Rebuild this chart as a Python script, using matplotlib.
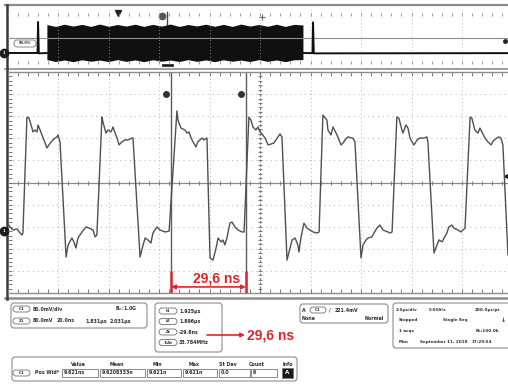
import numpy as np
import matplotlib.pyplot as plt
from matplotlib.patches import FancyBboxPatch

W, H = 508, 384
RED = '#e3232b'
GRID = '#b4b4b4'
FRAME = '#8c8c8c'
INK = '#2e2e2e'

# zoomed channel 1 record: time (ns) and voltage (mV), 20 ns/div, 80 mV/div
trace_t = [0.0, 1.0, 2.2, 3.8, 4.6, 5.7, 6.1, 7.7, 8.5, 9.7, 10.1, 10.9, 11.7, 12.1, 12.9,
           14.1, 14.9, 15.6, 16.4, 17.6, 18.8, 19.6, 20.0, 20.8, 23.2,
           24.0, 25.5, 26.3, 27.1, 27.9, 29.5, 31.1, 32.3, 33.9, 34.7, 35.4, 37.4,
           37.8, 39.0, 39.8, 41.0, 41.8, 42.6, 43.4, 44.2, 45.3, 46.5, 47.7, 49.3, 49.7, 52.5,
           53.7, 54.5, 55.6, 56.8, 57.6, 59.2, 60.4, 62.4, 64.0, 67.1,
           67.5, 68.7, 70.3, 71.1, 71.9, 72.7, 73.5, 74.6, 75.4, 77.0, 77.8, 79.0, 80.2,
           81.4, 82.6, 83.4, 84.6, 85.3, 86.1, 86.9, 88.1, 88.9, 90.1, 91.3, 92.9, 93.7, 95.6,
           96.4, 97.2, 98.4, 99.2, 100.0, 100.8, 102.0, 103.2, 104.3, 105.5, 107.1, 107.9, 108.7, 110.7,
           111.5, 112.7, 113.9, 115.0, 115.4, 116.2, 117.4, 118.6, 119.8, 121.0, 122.6, 123.4, 124.9,
           126.5, 126.9, 128.1, 128.9, 130.5, 131.3, 132.1, 132.9, 133.7, 134.8, 136.4, 136.8, 137.6, 140.0,
           140.8, 142.0, 142.8, 144.3, 145.1, 146.3, 147.5, 148.7, 150.7, 151.5, 152.3, 154.2,
           155.0, 156.2, 156.6, 157.8, 158.6, 159.4, 160.2, 161.0, 162.2, 163.4, 165.0, 166.1, 166.5, 168.9,
           170.1, 170.9, 172.1, 172.9, 174.0, 174.8, 176.0, 176.8, 178.4, 179.6, 180.4, 181.2, 183.2,
           183.9, 185.1, 186.3, 187.1, 187.9, 189.1, 190.3, 191.5, 192.3, 193.8, 194.6, 195.4, 196.2, 198.2, 200.0]
trace_mv = [-147, -161, -172, -168, -179, -190, -183, 237, 233, 197, 183, 190, 183, 208, 190,
            161, 143, 125, 136, 150, 161, 165, 172, 147, -270,
            -226, -201, -215, -237, -201, -179, -161, -165, -172, -197, -190, 237,
            219, 179, 190, 183, 201, 179, 161, 136, 147, 154, 154, 161, 161, -270,
            -226, -201, -208, -219, -183, -161, -172, -179, -176, 259,
            226, 197, 190, 179, 183, 161, 147, 129, 147, 161, 154, 161, -273,
            -281, -237, -201, -215, -208, -226, -201, -147, -143, -161, -172, -179, -179, 237,
            226, 201, 190, 201, 183, 176, 161, 136, 139, 143, 165, 176, 165, -281,
            -252, -208, -201, -226, -252, -201, -147, -165, -172, -179, -183, -179, 244,
            226, 190, 172, 201, 172, 154, 136, 143, 154, 165, 161, 161, 147, -273,
            -226, -208, -201, -197, -183, -165, -154, -172, -179, -183, -179, 237,
            233, 190, 179, 208, 197, 161, 147, 136, 154, 161, 161, 165, 147, -255,
            -226, -208, -215, -201, -183, -161, -154, -165, -172, -179, -172, -165, 237,
            233, 190, 179, 197, 183, 161, 147, 136, 150, 161, 165, 161, 136, -262, -270]

# overview record (us, mV), 2.0 us/div
ov_left_t = [0.0, 1.19, 1.21, 1.24, 1.56]
ov_left_mv = [-210, -210, 210, -215, -210]
ov_right_t = [11.70, 12.08, 12.10, 12.13, 20.0]
ov_right_mv = [-210, -212, 205, -215, -212]
burst_t = [1.56, 1.90, 2.25, 2.60, 2.95, 3.30, 3.65, 4.00, 4.35, 4.70, 5.05, 5.40, 5.75, 6.10, 6.45,
           6.80, 7.15, 7.50, 7.85, 8.20, 8.55, 8.90, 9.25, 9.60, 9.95, 10.30, 10.65, 11.00, 11.35, 11.70]
burst_hi = [175, 150, 180, 155, 178, 150, 182, 152, 176, 155, 180, 150, 178, 154, 182,
            150, 176, 156, 180, 152, 178, 150, 182, 155, 176, 152, 180, 150, 178, 170]
burst_lo = [-300, -325, -305, -328, -302, -322, -306, -326, -300, -324, -304, -328, -302, -322, -306,
            -326, -300, -324, -304, -328, -302, -322, -306, -326, -300, -324, -304, -328, -302, -300]

# cursors
t1_ns = 64.8
dt_ns = 29.6
delta_label = '29,6 ns'

# readouts
cursor_tags = ['t1', 't2', 'Δt', '1/Δt']
cursor_vals = ['1.925µs', '1.896µs', '-29.6ns', '33.784MHz']
meas_head = ['Value', 'Mean', 'Min', 'Max', 'St Dev', 'Count', 'Info']
meas_vals = ['9.621ns', '9.6208333n', '9.621n', '9.621n', '0.0', '6']
acq_text = ['2.0µs/div', '5.0GS/s', '200.0ps/pt',
            'Stopped', 'Single Seq', '↓',
            '1 acqs', 'RL:100.0k',
            'Mon', 'September 11, 2018', '17:29:54']

fig = plt.figure(figsize=(W / 100, H / 100), dpi=100)
fig.patch.set_facecolor('white')

bg = fig.add_axes([0, 0, 1, 1])
bg.set_xlim(0, W)
bg.set_ylim(H, 0)
bg.axis('off')


def px_axes(x0, y0, x1, y1):
    ax = fig.add_axes([x0 / W, 1 - y1 / H, (x1 - x0) / W, (y1 - y0) / H])
    ax.patch.set_alpha(0)
    ax.set_xticks([])
    ax.set_yticks([])
    return ax


def rbox(x0, y0, x1, y1, r=3, ec=FRAME, fc='white', lw=0.8):
    bg.add_patch(FancyBboxPatch((x0, y0), x1 - x0, y1 - y0,
                                boxstyle=f'round,pad=0,rounding_size={r}',
                                ec=ec, fc=fc, lw=lw))


def txt(x, y, s, ha='left', size=3.4, color=INK, **kw):
    bg.text(x, y, s, ha=ha, va='center', fontsize=size, color=color,
            fontweight='bold', **kw)


def pill(x0, x1, y, s):
    rbox(x0, y - 3, x1, y + 3, r=3, ec='#6f6f6f', lw=0.6)
    txt((x0 + x1) / 2, y, s, ha='center', size=2.8)


# outer frame lines
bg.plot([5, W], [5, 5], color=FRAME, lw=1.6)
bg.plot([5, W], [68.5, 68.5], color=FRAME, lw=1.2)
bg.plot([5, W], [297.5, 297.5], color=FRAME, lw=1.8)
bg.plot([7, 7], [5, 299], color='#3a3a3a', lw=1.8)

# ---- overview ----
ov = px_axes(7.5, 8, 512.5, 67)
ov.set_xlim(0, 20)
ov.set_ylim(-400, 400)
for s in ov.spines.values():
    s.set_visible(False)
for t in np.arange(2, 20, 2):
    ov.axvline(t, color=GRID, lw=0.6, ls=(0, (1, 3)))
ov.axhline(0, color='#8f8f8f', lw=0.8)
ot = np.arange(0, 20.01, 0.4)
ov.plot(ot, np.full_like(ot, 330), ls='none', marker=3, ms=2.5, mew=0.6, color='#888')
ov.plot(ot, np.full_like(ot, -360), ls='none', marker=2, ms=2.5, mew=0.6, color='#888')
ov.fill_between(burst_t, burst_lo, burst_hi, color='#101010', lw=0)
ov.plot(ov_left_t, ov_left_mv, color='#101010', lw=1.4)
ov.plot(ov_right_t, ov_right_mv, color='#101010', lw=1.4)

# overview markers
bg.plot(118, 13, marker='v', ms=4, color='#222')
bg.plot(162, 16, marker='o', ms=4.5, color='#555')
bg.plot([167, 167], [12, 25], color='#444', lw=1)
bg.plot([163, 172], [65, 65], color='#222', lw=2)
bg.plot(262, 17, marker='+', ms=4, color='#666', mew=0.8)
bg.plot(505, 41, marker='o', ms=2.5, color='#222')
rbox(14, 40, 36, 47, r=3, ec='#777', lw=0.6)
txt(25, 43.5, '50.0%', ha='center', size=2.6)
for y in (53, 231):
    bg.plot(3.5, y, marker='o', ms=6, color='#1e1e1e')
    txt(3.5, y, '1', ha='center', size=2.6, color='white')
bg.plot(506, 176, marker='<', ms=3, color='#222')

# ---- zoomed graticule ----
ax = px_axes(7.5, 72, 512.5, 293)
ax.set_xlim(0, 200)
ax.set_ylim(-400, 400)
ax.spines['right'].set_visible(False)
ax.spines['left'].set_visible(False)
for side in ('top', 'bottom'):
    ax.spines[side].set_color(FRAME)
    ax.spines[side].set_linewidth(1.0)

for t in range(20, 200, 20):
    if t != 100:
        ax.axvline(t, color=GRID, lw=0.7, ls=(0, (1, 3)))
for v in range(-320, 321, 80):
    if v != 0:
        ax.axhline(v, color=GRID, lw=0.7, ls=(0, (1, 4)))
ax.axhline(0, color='#8a8a8a', lw=0.9)
ax.axvline(100, color='#7a7a7a', lw=0.9, ls=(0, (2, 1.5)))

ts = np.arange(0, 200.01, 4)
vs = np.arange(-400, 400.01, 16)
tick = dict(ls='none', ms=3, mew=0.7, color='#7a7a7a', clip_on=False)
ax.plot(ts, np.zeros_like(ts), marker='|', **tick)
ax.plot(np.full_like(vs, 100), vs, marker='_', **tick)
ax.plot(ts, np.full_like(ts, 400), marker=3, **tick)
ax.plot(ts, np.full_like(ts, -400), marker=2, **tick)
ax.plot(np.zeros_like(vs), vs, marker=1, **tick)

ax.plot(trace_t, trace_mv, color='#505050', lw=1.0, zorder=3)

t2_ns = t1_ns + dt_ns
for t in (t1_ns, t2_ns):
    ax.axvline(t, color='#5c5c5c', lw=1.0)
ax.plot([t1_ns - 2, t2_ns - 2], [320, 320], 'o', ms=4, color='#333')

# delta annotation
ax.vlines([t1_ns, t2_ns], -400, -322, color=RED, lw=1.8, zorder=5)
ax.annotate('', xy=(t1_ns, -378), xytext=(t2_ns, -378),
            arrowprops=dict(arrowstyle='<|-|>', color=RED, lw=1.2,
                            mutation_scale=6, shrinkA=0, shrinkB=0), zorder=5)
ax.text(t1_ns + dt_ns / 2 + 3, -346, delta_label, color=RED, fontsize=10,
        fontweight='bold', family='Liberation Sans', ha='center', va='center', zorder=5)

# ---- readout panels ----
rbox(11, 303, 147, 328)
pill(13, 30, 309, 'C1')
txt(33, 309, '80.0mV/div')
txt(115, 309, 'B$_w$:1.0G')
pill(13, 30, 321, 'Z1')
txt(33, 321, '80.0mV')
txt(57, 321, '20.0ns')
txt(85, 321, '1.831µs')
txt(110, 321, '2.031µs')

rbox(155, 303, 222, 352)
for y, tag, val in zip((311, 321.5, 332, 342.5), cursor_tags, cursor_vals):
    pill(159, 177, y, tag)
    txt(179, y, val)

bg.annotate('', xy=(245, 335), xytext=(207, 335),
            arrowprops=dict(arrowstyle='-|>', color=RED, lw=1.2,
                            mutation_scale=6, shrinkA=0, shrinkB=0))
bg.text(247, 336, delta_label, color=RED, fontsize=10, fontweight='bold',
        family='Liberation Sans', ha='left', va='center')

rbox(12, 357, 297, 381)
head_x = [78, 117, 157, 194, 228, 257, 288]
for x, s in zip(head_x, meas_head):
    txt(x, 364, s, ha='center')
pill(13, 30, 373, 'C1')
txt(35, 373, 'Pos Wid*')
cells = [(62, 98), (100, 145), (147, 181), (183, 217), (219, 250), (251, 277)]
for (x0, x1), s in zip(cells, meas_vals):
    bg.add_patch(plt.Rectangle((x0, 369), x1 - x0, 8, ec='#777', fc='white', lw=0.6))
    txt(x0 + 2, 373, s)
bg.add_patch(plt.Rectangle((282, 368), 11, 10, ec='#777', fc='#1a1a1a', lw=0.6))
txt(287.5, 373, 'A', ha='center', size=4, color='white')

rbox(300, 304, 388, 323)
txt(302, 310, 'A')
pill(310, 326, 310, 'C1')
txt(329, 310, '/')
txt(335, 310, '221.4mV')
txt(302, 318, 'None')
txt(384, 318, 'Normal', ha='right')

# acquisition box: (x, y) for each entry of acq_text
rbox(393, 303, 520, 348)
acq_pos = [(396, 310), (429, 310), (475, 310),
           (399, 320.5), (443, 320.5), (501, 320.5),
           (399, 331), (476, 331),
           (399, 342), (420, 342), (472, 342)]
for (x, y), s in zip(acq_pos, acq_text):
    txt(x, y, s, size=4.6 if s == '↓' else 3.0)

fig.savefig('out.png', dpi=100)
